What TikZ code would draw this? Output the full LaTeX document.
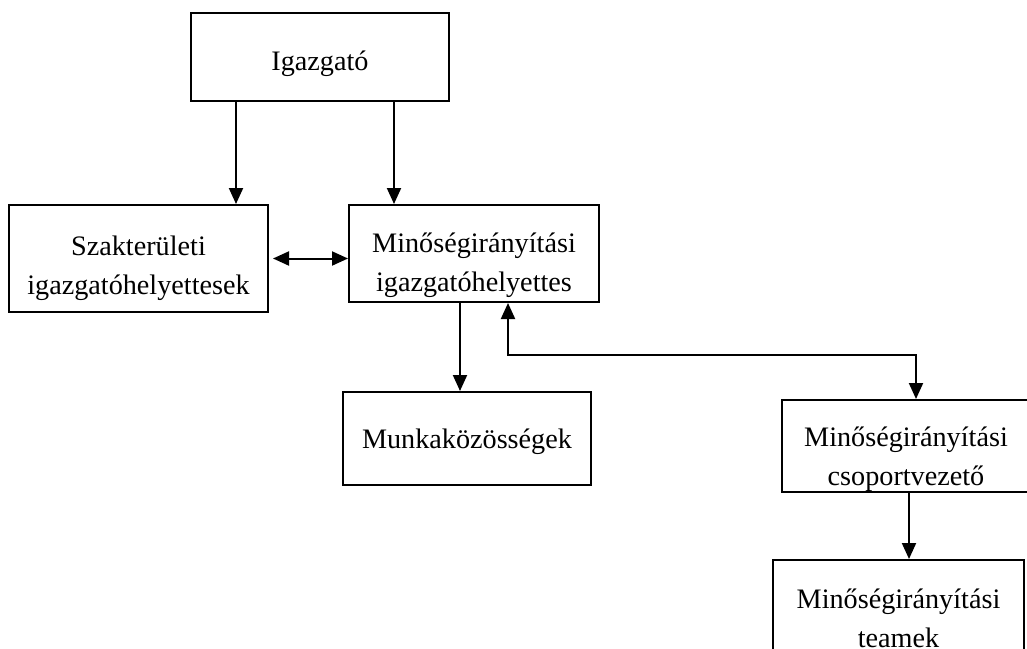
\documentclass[tikz,border=0pt]{standalone}
\usepackage{fontspec}
\setmainfont{Liberation Serif}
\usetikzlibrary{arrows.meta}
% raises the first line's height so the text block sits lower in its box
\newcommand{\tdrop}[1]{\rule{0pt}{#1}}
\begin{document}
\begin{tikzpicture}[x=0.5pt,y=-0.5pt,
  box/.style={draw,line width=1pt,inner sep=0pt,align=center,
    font=\fontsize{14.1}{19.5}\selectfont},
  arr/.style={line width=1pt,-{Triangle[width=7pt,length=8pt]}},
  darr/.style={line width=1pt,{Triangle[width=7pt,length=8pt]}-{Triangle[width=7pt,length=8pt]}}]
\clip (0,0) rectangle (1027,648);
% boxes
\node[box,minimum width=129pt,minimum height=44pt] (ig) at (320,57) {\tdrop{17pt}Igazgató};
\node[box,minimum width=129.5pt,minimum height=53.5pt] (szak) at (138.5,258.5) {\tdrop{19.5pt}Szakterületi\\igazgatóhelyettesek};
\node[box,minimum width=125pt,minimum height=48.5pt] (minigh) at (474,253.5) {\tdrop{22pt}Minőségirányítási\\igazgatóhelyettes};
\node[box,minimum width=124pt,minimum height=46.5pt] (munka) at (467,438.5) {\tdrop{13.5pt}Munkaközösségek};
\node[box,minimum width=124pt,minimum height=46pt] (csop) at (906,446) {\tdrop{23pt}Minőségirányítási\\csoportvezető};
\node[box,minimum width=125.5pt,minimum height=58pt] (team) at (898.5,618) {Minőségirányítási\\teamek};
\coordinate (jn) at (700,355);
% connectors
\draw[arr] ([xshift=-42pt]ig.south) -- ([xshift=-42pt]ig.south |- szak.north);
\draw[arr] ([xshift=37pt]ig.south) -- ([xshift=37pt]ig.south |- minigh.north);
\draw[darr,shorten <=2pt] (szak.east) -- (szak.east -| minigh.west);
\draw[arr] ([xshift=-7pt]minigh.south) -- ([xshift=-7pt]minigh.south |- munka.north);
\draw[darr] ([xshift=17pt]minigh.south) |- (jn) -| ([xshift=5pt]csop.north);
\draw[arr] ([xshift=1.5pt]csop.south) -- ([xshift=1.5pt]csop.south |- team.north);
\end{tikzpicture}
\end{document}
